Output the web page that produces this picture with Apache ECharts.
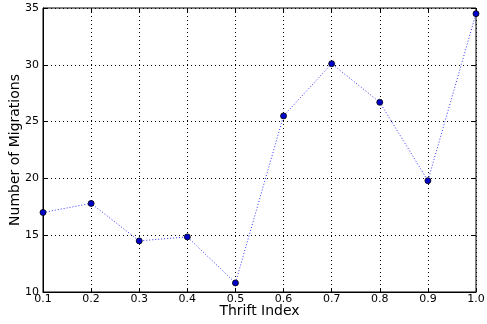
<!DOCTYPE html>
<html><head><meta charset="utf-8">
<script src="https://cdn.jsdelivr.net/npm/echarts@6/dist/echarts.min.js"></script>
<style>html,body{margin:0;padding:0;background:#fff}#c{width:487px;height:324px}</style>
</head><body><div id="c"></div>
<script>
const thriftIndex = [0.1, 0.2, 0.3, 0.4, 0.5, 0.6, 0.7, 0.8, 0.9, 1.0];
const migrations = [17.0, 17.8, 14.5, 14.85, 10.8, 25.5, 30.1, 26.7, 19.8, 34.5];
const yTicks = [10, 15, 20, 25, 30, 35];

const font = 'DejaVu Sans';
const chart = echarts.init(document.getElementById('c'), null, {renderer: 'canvas'});
const tick = {show: true, inside: true, length: 4, lineStyle: {color: '#000', width: 1}};
chart.setOption({
  animation: false,
  grid: {left: 43, right: 11, top: 8, bottom: 32, show: true, borderColor: '#000', borderWidth: 1,
         containLabel: false, outerBoundsMode: 'none'},
  xAxis: [{
    type: 'value', min: 0.1, max: 1.0, interval: 0.1,
    name: 'Thrift Index', nameLocation: 'middle', nameGap: 12, nameMoveOverlap: false,
    nameTextStyle: {fontFamily: font, fontSize: 14, color: '#000'},
    axisLine: {show: true, lineStyle: {color: '#000'}},
    axisTick: tick,
    axisLabel: {fontFamily: font, fontSize: 11, color: '#000', margin: 2, formatter: v => v.toFixed(1)},
    splitLine: {show: true, lineStyle: {color: '#000', type: [1, 3], width: 1}}
  }, {
    type: 'value', min: 0.1, max: 1.0, interval: 0.1, position: 'top',
    axisLine: {show: false}, axisTick: tick, axisLabel: {show: false}, splitLine: {show: false}
  }],
  yAxis: [{
    type: 'value', min: yTicks[0], max: yTicks[yTicks.length - 1], interval: 5,
    name: 'Number of Migrations', nameLocation: 'middle', nameGap: 21, nameRotate: 90, nameMoveOverlap: false,
    nameTextStyle: {fontFamily: font, fontSize: 14, color: '#000'},
    axisLine: {show: true, lineStyle: {color: '#000'}},
    axisTick: tick,
    axisLabel: {fontFamily: font, fontSize: 11, color: '#000', margin: 4},
    splitLine: {show: true, lineStyle: {color: '#000', type: [1, 3], width: 1}}
  }, {
    type: 'value', min: yTicks[0], max: yTicks[yTicks.length - 1], interval: 5, position: 'right',
    axisLine: {show: false}, axisTick: tick, axisLabel: {show: false}, splitLine: {show: false}
  }],
  series: [{
    type: 'line',
    data: thriftIndex.map((x, i) => [x, migrations[i]]),
    symbol: 'circle', symbolSize: 6,
    itemStyle: {color: '#0000cc', borderColor: '#000', borderWidth: 0.8},
    lineStyle: {color: '#3333ff', width: 1, type: [1, 2]},
    z: 5
  }]
});
</script></body></html>
